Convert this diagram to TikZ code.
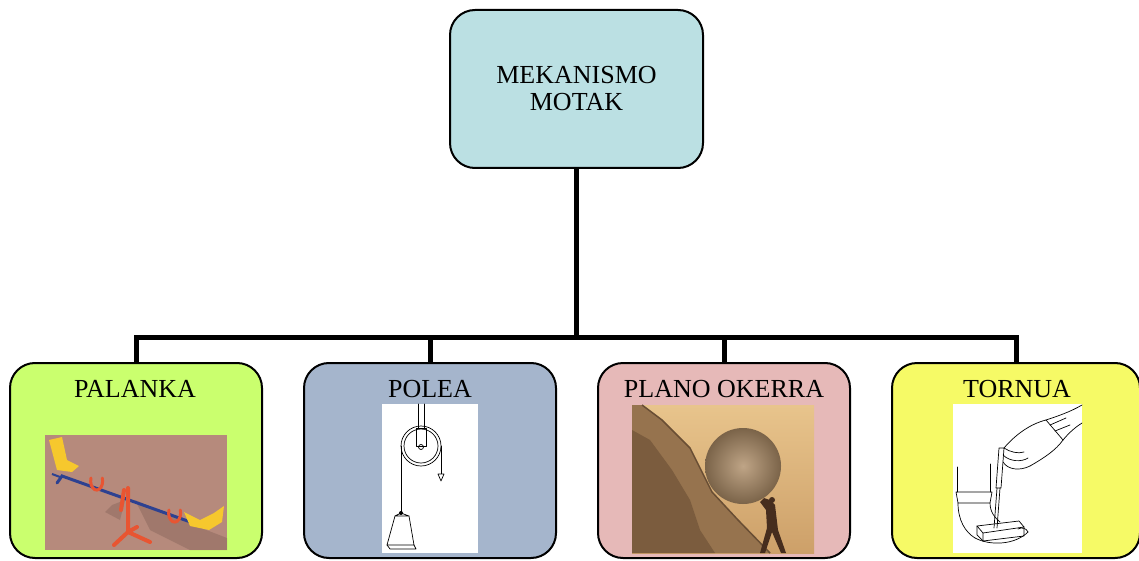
\documentclass[tikz,border=0pt]{standalone}
\usepackage{fontspec}
\setmainfont{Liberation Serif}
\usetikzlibrary{arrows.meta}
\definecolor{topc}{RGB}{187,224,227}
\definecolor{cA}{RGB}{202,255,110}
\definecolor{cB}{RGB}{165,181,204}
\definecolor{cC}{RGB}{230,185,184}
\definecolor{cD}{RGB}{246,250,102}
\definecolor{ground}{RGB}{182,138,124}
\definecolor{groundd}{RGB}{140,104,94}
\definecolor{seat}{RGB}{246,200,45}
\definecolor{standr}{RGB}{232,85,50}
\definecolor{beam}{RGB}{45,65,145}
\definecolor{skyA}{RGB}{232,196,140}
\definecolor{skyB}{RGB}{205,160,105}
\definecolor{rock}{RGB}{150,115,78}
\definecolor{rockd}{RGB}{105,78,52}
\definecolor{stone}{RGB}{175,142,104}
\definecolor{man}{RGB}{70,45,30}
\newcommand{\lblfont}{\fontsize{26}{28}\selectfont}
\begin{document}
\begin{tikzpicture}[x=1pt,y=-1pt,
  box/.style={draw=black, line width=2pt, rounded corners=25pt, inner sep=0pt,
    minimum width=252pt, minimum height=195pt},
  lbl/.style={font=\lblfont, anchor=base, inner sep=0pt},
  conn/.style={draw=black, line width=5pt},
  photo/.style={draw=none, inner sep=0pt, anchor=north west},
  ink/.style={draw=black, line width=0.7pt, line join=round, line cap=round}]
\useasboundingbox (0,0) rectangle (1139,561);

% boxes
\node[box, fill=topc, minimum width=253pt, minimum height=158pt, align=center, font=\lblfont] (top) at (576.5,89) {MEKANISMO\\[-1pt]MOTAK};
\node[box, fill=cA] (b1) at (136,460.5) {};
\node[box, fill=cB] (b2) at (430,460.5) {};
\node[box, fill=cC] (b3) at (724,460.5) {};
\node[box, fill=cD, minimum width=248pt] (b4) at (1016,460.5) {};

% connectors
\coordinate (bus) at (576.5,337);
\draw[conn] (top.south) -- (bus);
\draw[conn] (b1.north) -- (b1.north |- bus) -- (b4.north |- bus) -- (b4.north);
\draw[conn] (b2.north) -- (b2.north |- bus);
\draw[conn] (b3.north) -- (b3.north |- bus);

% labels
\node[lbl] (t1) at (135,397) {PALANKA};
\node[lbl] (t2) at (430,397) {POLEA};
\node[lbl] (t3) at (724,397) {PLANO OKERRA};
\node[lbl] (t4) at (1017,397) {TORNUA};

% ---- photo 1: seesaw
\node[photo, fill=ground, minimum width=182pt, minimum height=115pt] (p1) at (45,435) {};
\fill[groundd, opacity=0.5] (135,500) -- (196,526) -- (227,538) -- (227,550) -- (190,550) -- (150,530) -- cycle;
\fill[groundd, opacity=0.5] (112,505) -- (125,500) -- (120,520) -- (105,512) -- cycle;
\draw[beam, line width=3pt, line cap=round] (57,483) -- (62,476) -- (196,524);
\draw[beam, line width=2pt] (60,477) -- (52,474);
\draw[standr, line width=3pt, line cap=round] (91,478) arc[start angle=200, end angle=-20, x radius=6, y radius=9];
\draw[standr, line width=3pt, line cap=round] (169,510) arc[start angle=200, end angle=-20, x radius=6, y radius=9];
\draw[standr, line width=4pt, line cap=round] (128,488) -- (128,532) (128,532) -- (114,545) (128,532) -- (150,542) (128,532) -- (137,527) (124,490) -- (121,510);
\fill[seat] (49,440) -- (62,437) -- (67,460) -- (79,466) -- (72,472) -- (57,470) -- cycle;
\fill[seat] (184,512) -- (200,520) -- (214,513) -- (224,506) -- (222,522) -- (209,530) -- (190,526) -- cycle;

% ---- photo 2: pulley
\node[photo, fill=white, minimum width=96pt, minimum height=149pt] (p2) at (382,404) {};
\draw[ink] (418,404) -- (418,428) (424,404) -- (424,428);
\draw[ink] (416,428) -- (416,446) -- (426,446) -- (426,428) -- cycle;
\draw[ink] (421,446) circle[radius=20];
\draw[ink] (421,446) circle[radius=17];
\draw[ink] (421,447) circle[radius=2.5];
\draw[ink] (401,446) -- (401,512);
\draw[ink] (441,446) -- (441,474);
\draw[ink, fill=white] (438,474) -- (444,474) -- (441,481) -- cycle;
\fill (401,513) circle[radius=2];
\draw[ink] (401,513) -- (395,516) -- (409,516) -- cycle;
\draw[ink] (395,516) -- (387,545) -- (414,545) -- (409,516);
\draw[ink] (387,545) -- (390,549) -- (416,549) -- (414,545);

% ---- photo 3: inclined plane (Sisyphus)
\node[photo, top color=skyA, bottom color=skyB, minimum width=182pt, minimum height=148pt] (p3) at (632,405) {};
\fill[rock] (632,405) -- (642,405) -- (662,420) -- (690,448) -- (712,492) -- (738,520) -- (770,553) -- (632,553) -- cycle;
\fill[rockd, opacity=0.6] (632,430) -- (650,440) -- (672,470) -- (690,500) -- (700,530) -- (715,553) -- (632,553) -- cycle;
\draw[rockd, line width=1.5pt] (642,405) -- (662,420) -- (690,448) -- (712,492) -- (738,520) -- (770,553);
\shade[inner color=stone!80!white, outer color=stone!70!black] (743,466) circle[radius=38];
\fill[man] (770,500) -- (775,505) -- (778,530) -- (786,553) -- (781,553) -- (772,532) -- (765,553) -- (760,553) -- (767,528) -- (766,510) -- (760,502) -- (764,498) -- cycle;
\fill[man] (772,500) circle[radius=3];

% ---- photo 4: hand drill
\node[photo, fill=white, minimum width=129pt, minimum height=149pt] (p4) at (953,404) {};
% upper sleeve and hand
\draw[ink] (1082,405) .. controls (1070,412) and (1058,416) .. (1046,420);
\draw[ink] (1082,423) .. controls (1074,428) and (1068,434) .. (1063,440);
\draw[ink] (1046,420) -- (1063,440);
\draw[ink] (1050,425) -- (1066,418) (1055,431) -- (1070,425);
\draw[ink] (1046,420) .. controls (1030,424) and (1015,435) .. (1004,448);
\draw[ink] (1004,448) .. controls (1010,452) and (1018,454) .. (1024,452);
\draw[ink] (1003,455) .. controls (1010,462) and (1022,462) .. (1028,458);
\draw[ink] (1003,462) .. controls (1008,470) and (1020,471) .. (1030,466);
\draw[ink] (1030,466) .. controls (1044,458) and (1056,450) .. (1063,440);
% awl
\draw[ink] (999,448) -- (1004,448) -- (1001,488) -- (996,488) -- cycle;
\draw[ink] (997,488) -- (994,528) (1000,488) -- (997,528);
% lower sleeve and hand
\draw[ink] (957,467) -- (957,492) (990,464) -- (990,492);
\draw[ink] (956,492) -- (992,492) -- (990,503) -- (958,503) -- cycle;
\draw[ink] (958,503) .. controls (958,520) and (965,532) .. (975,538);
\draw[ink] (990,503) .. controls (990,512) and (995,518) .. (1000,522);
\draw[ink] (975,538) .. controls (990,546) and (1015,545) .. (1028,532);
\draw[ink] (1028,532) .. controls (1026,528) and (1022,527) .. (1018,529);
% block
\draw[ink] (977,526) -- (1019,521) -- (1024,527) -- (983,533) -- cycle;
\draw[ink] (983,533) -- (983,541) -- (1024,536) -- (1024,527);
\draw[ink] (977,526) -- (977,535) -- (983,541);
\end{tikzpicture}
\end{document}
